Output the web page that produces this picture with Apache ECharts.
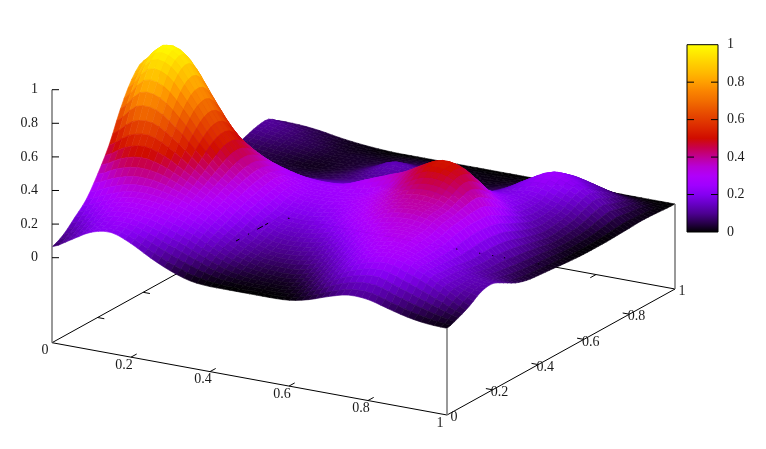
<!DOCTYPE html>
<html><head><meta charset="utf-8">
<style>html,body{margin:0;padding:0;background:#fff}#c{width:766px;height:449px}</style>
<script src="https://cdn.jsdelivr.net/npm/echarts@6/dist/echarts.min.js"></script>
</head><body><div id="c"></div>
<script>
// surface heights: one row per y, 21 values per row for x = 0, .05 ... 1
const y00=[.065,.13,.195,.214,.17,.105,.05,.012,0,0,0,0,.005,.03,.07,.10,.095,.063,.033,.015,.01];
const y05=[.10,.165,.22,.24,.215,.17,.125,.08,.04,.02,.015,.012,.03,.08,.14,.18,.19,.15,.11,.07,.035];
const y10=[.165,.218,.27,.285,.27,.235,.19,.135,.085,.05,.035,.035,.07,.13,.20,.25,.27,.24,.19,.13,.07];
const y15=[.234,.283,.325,.335,.32,.285,.235,.17,.115,.08,.07,.08,.12,.18,.245,.285,.29,.25,.19,.14,.115];
const y20=[.347,.401,.43,.42,.38,.33,.27,.20,.14,.105,.105,.125,.17,.235,.29,.32,.31,.25,.185,.14,.126];
const y25=[.482,.562,.585,.535,.455,.375,.305,.235,.17,.14,.145,.17,.225,.285,.325,.34,.32,.26,.17,.114,.093];
const y30=[.66,.78,.77,.67,.54,.42,.335,.26,.19,.17,.185,.225,.275,.33,.37,.38,.35,.28,.164,.097,.055];
const y35=[.80,.935,.915,.77,.60,.46,.36,.28,.22,.205,.22,.255,.305,.36,.39,.39,.36,.29,.171,.086,.033];
const y40=[.87,.985,.955,.78,.60,.46,.365,.295,.245,.235,.25,.285,.33,.39,.44,.44,.39,.29,.167,.075,.024];
const y45=[.81,.90,.845,.675,.51,.41,.335,.28,.245,.25,.26,.29,.35,.44,.505,.49,.41,.28,.154,.067,.018];
const y50=[.57,.64,.63,.49,.385,.325,.285,.255,.245,.255,.30,.34,.39,.455,.505,.48,.37,.24,.129,.059,.011];
const y55=[.36,.40,.39,.33,.27,.225,.205,.195,.195,.215,.26,.315,.35,.39,.42,.39,.30,.20,.107,.047,.005];
const y60=[.223,.24,.23,.2,.175,.155,.145,.147,.155,.19,.21,.245,.275,.31,.32,.28,.225,.16,.092,.039,.001];
const y65=[.145,.14,.13,.115,.108,.104,.107,.115,.13,.135,.14,.155,.18,.21,.23,.22,.2,.15,.099,.043,0];
const y70=[.097,.078,.067,.056,.053,.057,.07,.09,.11,.11,.10,.095,.105,.135,.17,.185,.195,.16,.115,.05,0];
const y75=[.07,.06,.05,.038,.035,.042,.06,.09,.125,.115,.095,.075,.075,.10,.14,.195,.23,.20,.15,.07,.003];
const y80=[.065,.05,.04,.025,.02,.03,.05,.09,.14,.12,.09,.06,.05,.075,.125,.195,.25,.225,.17,.085,.006];
const y85=[.085,.07,.055,.038,.025,.03,.04,.065,.095,.08,.06,.04,.035,.055,.09,.15,.21,.18,.13,.065,.01];
const y90=[.108,.088,.068,.05,.03,.03,.03,.04,.05,.04,.03,.02,.02,.035,.06,.105,.15,.13,.09,.05,.008];
const y95=[.112,.09,.062,.04,.022,.017,.015,.02,.025,.02,.015,.01,.01,.018,.03,.05,.07,.058,.04,.02,.003];
const y100=[.065,.062,.05,.03,.015,.005,0,0,0,0,0,0,0,0,0,0,0,0,0,0,0];
const zRows=[y00,y05,y10,y15,y20,y25,y30,y35,y40,y45,y50,y55,y60,y65,y70,y75,y80,y85,y90,y95,y100];

const xyTicks=[0,.2,.4,.6,.8,1];
const zTicks=[0,.2,.4,.6,.8,1];
const paletteT=[0,.05,.1,.15,.2,.25,.3,.35,.4,.45,.5,.55,.6,.65,.7,.75,.8,.85,.9,.95,1];
const paletteC=['#000000','#28004a','#4c0090','#6600c4','#8400f0','#a000ff','#b000fa','#b800d8','#c00096','#c8004e','#d00c00','#da2400','#e23c00','#ea5400','#f26e00','#fa8400','#ffa000','#ffba00','#ffd000','#ffe800','#ffff00'];
// short pieces of the hidden base lines that show through the surface
const leftLineBits=[[.807,.822],[.86,.864],[.90,.925],[.935,.948]];
const backLineBits=[[.02,.024],[.446,.449],[.504,.507],[.537,.54],[.567,.57],[.653,.656]];

const O=[52,342.7],EX=[395,72.3],EY=[228,-126],EZ=168,ZB=-.506;
const P=(x,y,z)=>[O[0]+EX[0]*x+EY[0]*y, O[1]+EX[1]*x+EY[1]*y-EZ*(z-ZB)];
const BAR={x0:687,x1:718,y0:44.7,y1:232};
const barY=t=>BAR.y1+(BAR.y0-BAR.y1)*t;

function hex(c){return [1,3,5].map(i=>parseInt(c.substr(i,2),16));}
function colour(t){
  t=Math.max(0,Math.min(1,t));
  let k=0;while(k<paletteT.length-2&&t>paletteT[k+1])k++;
  const f=(t-paletteT[k])/(paletteT[k+1]-paletteT[k]),a=hex(paletteC[k]),b=hex(paletteC[k+1]);
  return 'rgb('+a.map((v,i)=>Math.round(v+(b[i]-v)*f)).join(',')+')';
}
const N=zRows.length-1;
// like pm3d's "interpolate": each data cell is shaded as SUB x SUB facets, drawn through a smooth spline of the read values
const SUB=3;
const cr=(a,b,c,d,t)=>b+.5*t*(c-a+t*(2*a-5*b+4*c-d+t*(3*(b-c)+d-a)));
const rowAt=(i,j)=>{const r=zRows[Math.max(0,Math.min(N,j))];return r[Math.max(0,Math.min(N,i))];};
function surf(u,v){
  const i=Math.min(N-1,Math.floor(u)),j=Math.min(N-1,Math.floor(v)),fx=u-i,fy=v-j;
  const col=[-1,0,1,2].map(d=>cr(rowAt(i-1,j+d),rowAt(i,j+d),rowAt(i+1,j+d),rowAt(i+2,j+d),fx));
  return Math.max(0,cr(col[0],col[1],col[2],col[3],fy));
}
const M=N*SUB;
const cells=[];
for(let j=M-1;j>=0;j--)for(let i=0;i<M;i++)cells.push([i,j]);

const FONT='14px "Liberation Serif"';
const TXT='#1a1a1a';
function seg(api,a,b,col,w){
  const p=api.coord(a),q=api.coord(b);
  return {type:'line',shape:{x1:p[0],y1:p[1],x2:q[0],y2:q[1]},style:{stroke:col,lineWidth:w}};
}
function txt(api,a,s,align){
  const p=api.coord(a);
  return {type:'text',style:{text:s,x:p[0],y:p[1],font:FONT,fill:TXT,align:align||'center',verticalAlign:'middle'}};
}
function group(ch){return {type:'group',children:ch};}
function one(fn,z){return {type:'custom',coordinateSystem:'cartesian2d',data:[[0,0]],z:z,silent:true,clip:false,renderItem:(p,api)=>group(fn(api))};}

const backFrame=api=>{
  const c=[seg(api,P(0,0,ZB),P(0,1,ZB),'#000',1),seg(api,P(0,1,ZB),P(1,1,ZB),'#000',1)];
  xyTicks.slice(1,5).forEach(t=>{
    c.push(seg(api,P(0,t,ZB),P(.017,t,ZB),'#000',1));
    c.push(seg(api,P(t,1,ZB),P(t,.975,ZB),'#000',1));
  });
  return c;
};
const frontFrame=api=>{
  const c=[seg(api,P(0,0,ZB),P(1,0,ZB),'#000',1),seg(api,P(1,0,ZB),P(1,1,ZB),'#000',1),
    seg(api,P(0,0,ZB),P(0,0,1),'#777',1.5),
    seg(api,P(1,0,ZB),P(1,0,zRows[0][N]),'#777',1.5),
    seg(api,P(1,1,ZB),P(1,1,zRows[N][N]),'#777',1.5)];
  zTicks.forEach(t=>{
    const a=P(0,0,t);
    c.push(seg(api,a,[a[0]+7,a[1]],'#000',1));
    c.push(txt(api,[a[0]-14,a[1]],String(t),'right'));
  });
  xyTicks.slice(1,5).forEach(t=>{
    c.push(seg(api,P(t,0,ZB),P(t,.025,ZB),'#000',1));
    c.push(seg(api,P(1,t,ZB),P(.983,t,ZB),'#000',1));
  });
  xyTicks.forEach(t=>{
    const a=P(t,0,ZB),b=P(1,t,ZB);
    c.push(txt(api,[a[0]-7,a[1]+8],String(t)));
    c.push(txt(api,[b[0]+7,b[1]+2.5],String(t)));
  });
  leftLineBits.forEach(s=>c.push(seg(api,P(0,s[0],ZB),P(0,s[1],ZB),'#000',1)));
  backLineBits.forEach(s=>c.push(seg(api,P(s[0],1,ZB),P(s[1],1,ZB),'#000',1)));
  return c;
};
const colorBar=api=>{
  const tl=api.coord([BAR.x0,BAR.y0]),br=api.coord([BAR.x1,BAR.y1]);
  const c=[{type:'rect',shape:{x:tl[0],y:tl[1],width:br[0]-tl[0],height:br[1]-tl[1]},
    style:{stroke:'#000',lineWidth:1,fill:{type:'linear',x:0,y:1,x2:0,y2:0,colorStops:paletteT.map((t,i)=>({offset:t,color:paletteC[i]}))}}}];
  zTicks.forEach(t=>{
    const y=barY(t);
    if(t>0&&t<1){c.push(seg(api,[BAR.x0,y],[BAR.x0+7,y],'#000',1));c.push(seg(api,[BAR.x1-7,y],[BAR.x1,y],'#000',1));}
    c.push(txt(api,[BAR.x1+9,y],String(t),'left'));
  });
  return c;
};

const chart=echarts.init(document.getElementById('c'),null,{renderer:'canvas'});
chart.setOption({
  animation:false,backgroundColor:'#fff',
  grid:{left:0,top:0,width:766,height:449},
  xAxis:{type:'value',min:0,max:766,show:false},
  yAxis:{type:'value',min:0,max:449,inverse:true,show:false},
  series:[
    one(backFrame,1),
    {type:'custom',coordinateSystem:'cartesian2d',data:cells,z:2,silent:true,clip:false,progressive:0,
     renderItem:(p,api)=>{
       const i=api.value(0),j=api.value(1);
       const a=[[i,j],[i+1,j],[i+1,j+1],[i,j+1]];
       const zs=a.map(q=>surf(q[0]/SUB,q[1]/SUB));
       const col=colour((zs[0]+zs[1]+zs[2]+zs[3])/4);
       return {type:'polygon',z2:p.dataIndex,
         shape:{points:a.map((q,k)=>api.coord(P(q[0]/M,q[1]/M,zs[k])))},
         style:{fill:col,stroke:col,lineWidth:.6}};
     }},
    one(frontFrame,3),
    one(colorBar,3)
  ]
});
</script></body></html>
